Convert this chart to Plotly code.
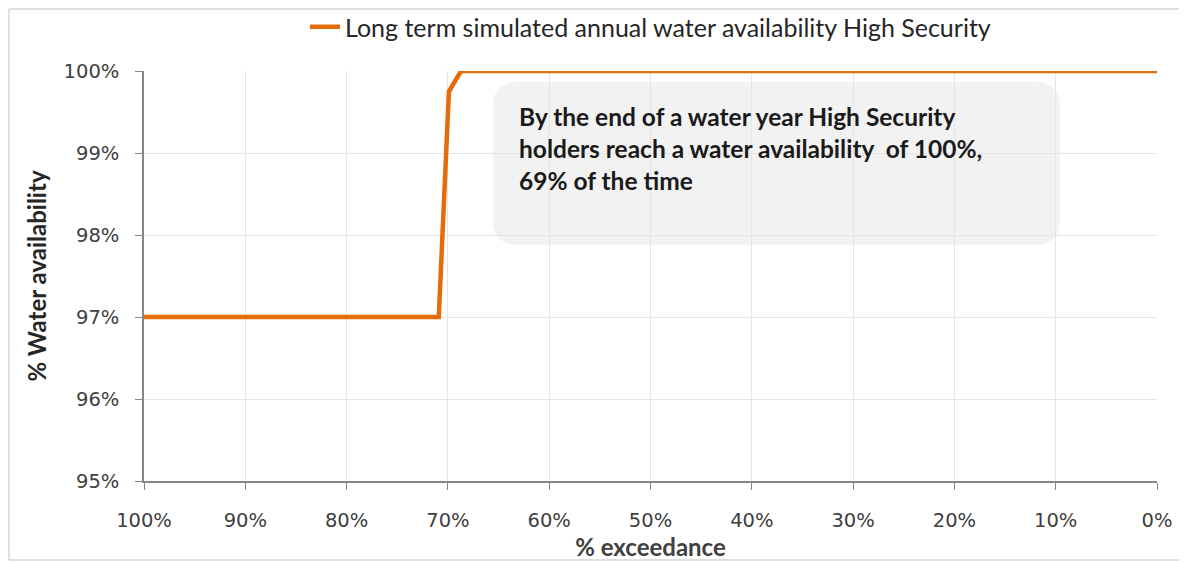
import plotly.graph_objects as go

exceedance = [100, 70.9, 69.9, 68.7, 0]
availability = [97, 97, 99.75, 100, 100]
series_name = "Long term simulated annual water availability High Security"
x_ticks = [100, 90, 80, 70, 60, 50, 40, 30, 20, 10, 0]
x_tick_labels = [f"{v}%" for v in x_ticks]
y_ticks = [95, 96, 97, 98, 99, 100]
y_tick_labels = [f"{v}%" for v in y_ticks]
note = ("By the end of a water year High Security<br>"
        "holders reach a water availability  of 100%,<br>"
        "69% of the time")

fig = go.Figure()
fig.add_trace(go.Scatter(
    x=exceedance, y=availability, mode="lines", name=series_name,
    line=dict(color="#E46C0A", width=4.5), cliponaxis=False))

# rounded rectangle for the annotation box (data coords)
x0, x1 = 65.55, 9.6
y0, y1 = 97.88, 99.865
rx, ry = 2.5, 0.30
path = (f"M {x0-rx},{y1} L {x1+rx},{y1} Q {x1},{y1} {x1},{y1-ry} "
        f"L {x1},{y0+ry} Q {x1},{y0} {x1+rx},{y0} "
        f"L {x0-rx},{y0} Q {x0},{y0} {x0},{y0+ry} "
        f"L {x0},{y1-ry} Q {x0},{y1} {x0-rx},{y1} Z")

axis_col = "#868686"
W, H = 1179, 554
l, r, t, b = 136, 30, 63, 81
pw, ph = W - l - r, H - t - b
fig.update_layout(
    width=W, height=H,
    paper_bgcolor="white", plot_bgcolor="white",
    margin=dict(l=l, r=r, t=t, b=b, autoexpand=False),
    font=dict(family="Lato, Open Sans, sans-serif", color="#404040"),
    showlegend=True,
    legend=dict(orientation="h", x=0.5, xanchor="center", y=1 - 19 / H, yanchor="middle",
                yref="container", font=dict(size=25, color="#262626", family="Lato"),
                bgcolor="rgba(0,0,0,0)"),
    shapes=[
        dict(type="path", path=path, xref="x", yref="y", fillcolor="#F2F2F2",
             line=dict(width=0), layer="below"),
        dict(type="rect", xref="paper", yref="paper", x0=-(l - 1) / pw, x1=1 + (r - 5) / pw,
             y0=-(b - 2) / ph, y1=1 + (t - 1) / ph, line=dict(color="#BFBFBF", width=1)),
    ],
    annotations=[dict(
        x=63.2, y=99.65, xref="x", yref="y", xanchor="left", yanchor="top",
        text=f"<b>{note}</b>", showarrow=False, align="left",
        font=dict(size=24.5, color="#1a1a1a", family="Lato"))],
)
fig.update_xaxes(
    range=[100, 0], tickvals=x_ticks, ticktext=x_tick_labels, automargin=False,
    showgrid=True, gridcolor="#E6E6E6", gridwidth=1,
    showline=True, linecolor=axis_col, linewidth=1.5,
    ticks="outside", ticklen=7, tickcolor=axis_col, ticklabelstandoff=14,
    tickfont=dict(family="DejaVu Sans", size=19.5, color="#404040"),
    title=dict(text="<b>% exceedance</b>", font=dict(size=24, family="Lato", color="#404040"),
               standoff=2),
    zeroline=False)
fig.update_yaxes(
    range=[95, 100], tickvals=y_ticks, ticktext=y_tick_labels, automargin=False,
    showgrid=True, gridcolor="#E6E6E6", gridwidth=1,
    showline=True, linecolor=axis_col, linewidth=1.5,
    ticks="outside", ticklen=7, tickcolor=axis_col, ticklabelstandoff=12,
    tickfont=dict(family="DejaVu Sans", size=19.5, color="#404040"),
    title=dict(text="<b>% Water availability</b>", font=dict(size=24, family="Lato", color="#262626"),
               standoff=10),
    zeroline=False)

fig.write_html("out.html")
